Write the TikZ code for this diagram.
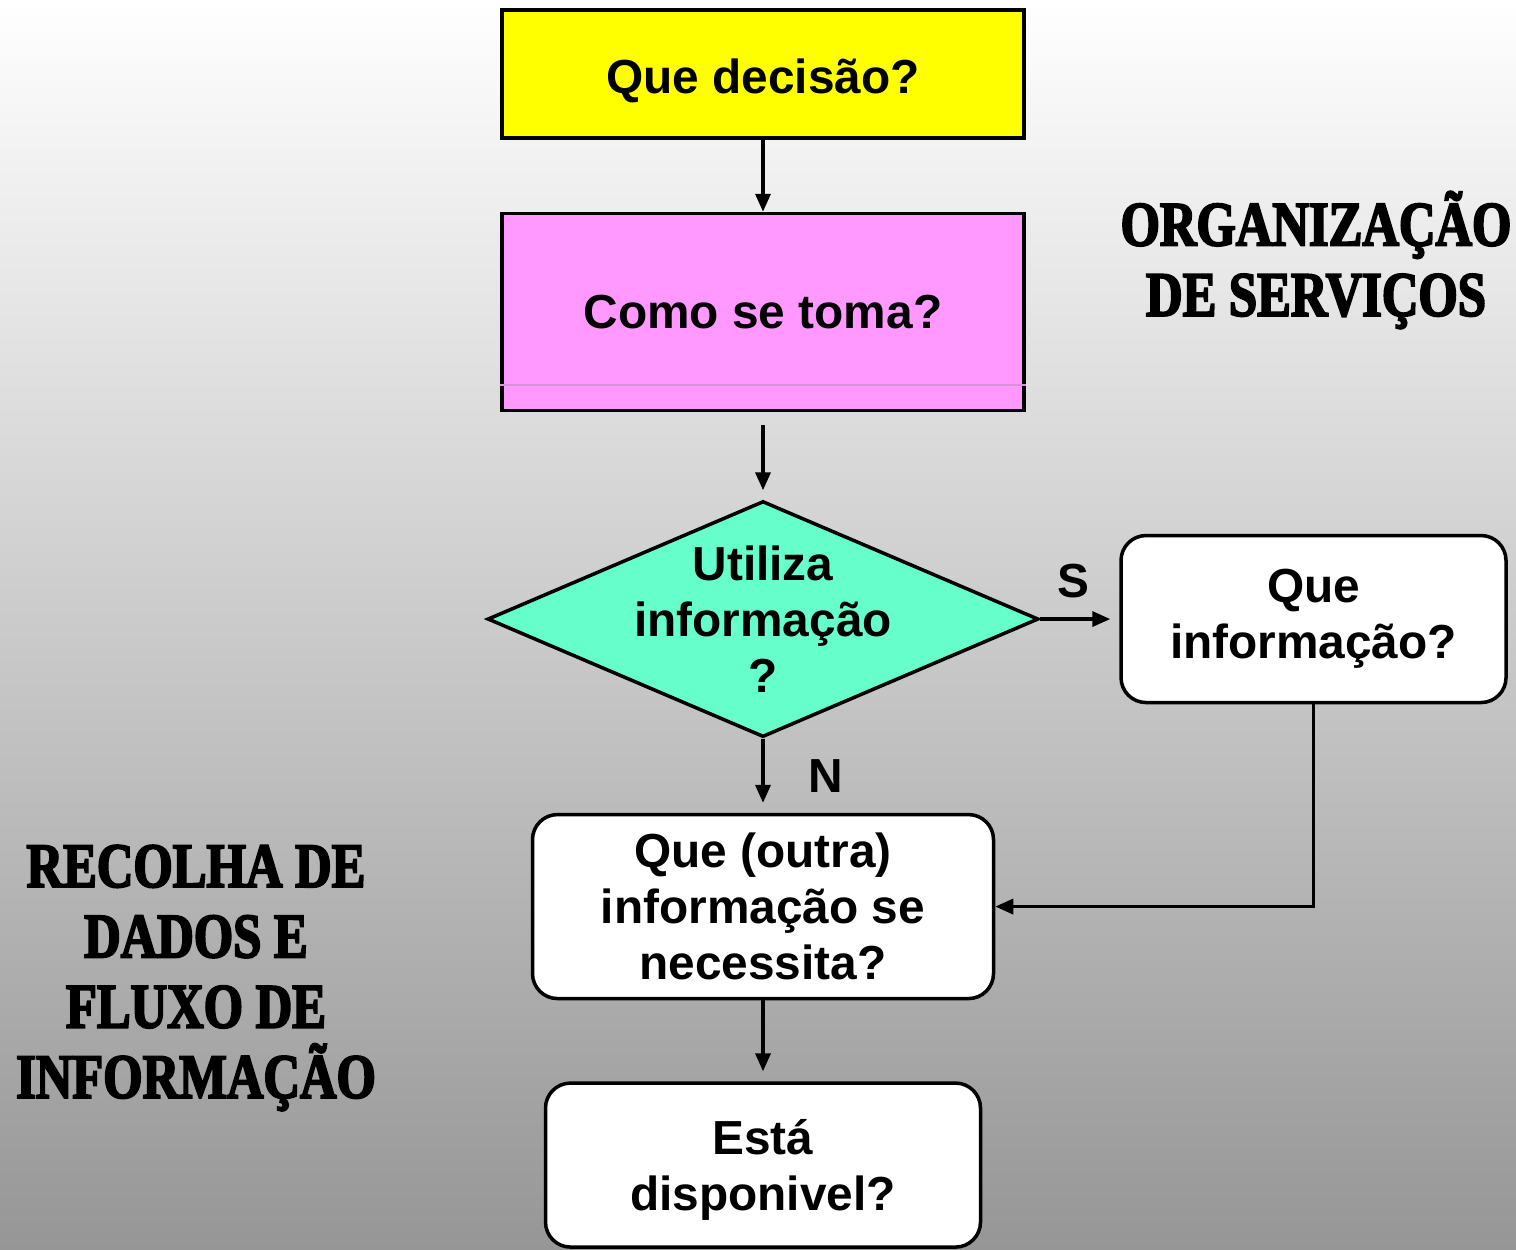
\documentclass[tikz,border=0pt]{standalone}
\usepackage{fontspec}
\setmainfont{Liberation Sans}
\newfontfamily\stencilfont[FakeStretch=0.8,FakeBold=3]{Liberation Serif}
\usetikzlibrary{positioning,shapes.geometric,arrows.meta}
\definecolor{boxyellow}{RGB}{255,255,0}
\definecolor{boxpink}{RGB}{255,153,255}
\definecolor{boxaqua}{RGB}{102,255,204}
\definecolor{bggray}{RGB}{150,150,150}

\begin{document}
\begin{tikzpicture}[->,>={Triangle[length=0.18cm,width=0.15cm]},line width=1pt,auto,node distance=0.8cm,
    txt/.style={align=center,font=\bfseries\fontsize{13.6}{16}\selectfont},
    main node/.style={txt,draw,line width=1pt},
    round node/.style={main node,fill=white,rounded corners=0.25cm},
    title node/.style={align=center,font=\stencilfont\bfseries\fontsize{18}{20}\selectfont}]
                        \shade[top color=white,bottom color=bggray] (0,0) rectangle (15.16,-12.49);
                        \useasboundingbox (0,0) rectangle (15.16,-12.49);

                        \node[main node,fill=boxyellow,minimum width=5.22cm,minimum height=1.28cm,text height=0.41cm,text depth=0.03cm] (1) at (7.63,-0.74) {Que decisão?};
                        \node[main node,fill=boxpink,minimum width=5.22cm,minimum height=1.97cm] (2) [below=0.72cm of 1] {Como se toma?};
                        \node[main node,diamond,fill=boxaqua,minimum width=5.51cm,minimum height=2.36cm,inner sep=0pt,
                            label={[txt]center:Utiliza\\informação\\?}] (3) [below=0.87cm of 2] {};
                        \node[round node,minimum width=3.85cm,minimum height=1.67cm] (4) [right=0.79cm of 3] {Que\\informação?};
                        \node[round node,minimum width=4.61cm,minimum height=1.84cm] (5) [below=0.74cm of 3] {Que (outra)\\informação se\\necessita?};
                        \node[round node,minimum width=4.35cm,minimum height=1.64cm] (6) [below=0.81cm of 5] {\\[-0.12cm]Está\\disponivel?};

                        \node[title node] (7) at (13.16,-2.60) {ORGANIZAÇÃO\\DE SERVIÇOS};
                        \node[title node] (8) at (1.96,-9.78) {RECOLHA DE\\DADOS E\\FLUXO DE\\INFORMAÇÃO};

                        \draw[-,line width=0.5pt,boxpink!70!gray] ([yshift=0.27cm]2.south west) -- ([yshift=0.27cm]2.south east);

                        \path[every node/.style={txt}]
                            (1) edge (2)
                            (2) edge[shorten <=0.13cm,shorten >=0.09cm] (3)
                            (3) edge[shorten >=0.09cm] node[above=0.08cm,xshift=-0.06cm]{S} (4)
                            (3) edge[shorten >=0.1cm] node[right=0.32cm]{N} (5)
                            (5) edge[shorten >=0.1cm] (6)
                            (4) edge[to path={|- (\tikztotarget)}] (5)
                        ;

                    \end{tikzpicture}
\end{document}
